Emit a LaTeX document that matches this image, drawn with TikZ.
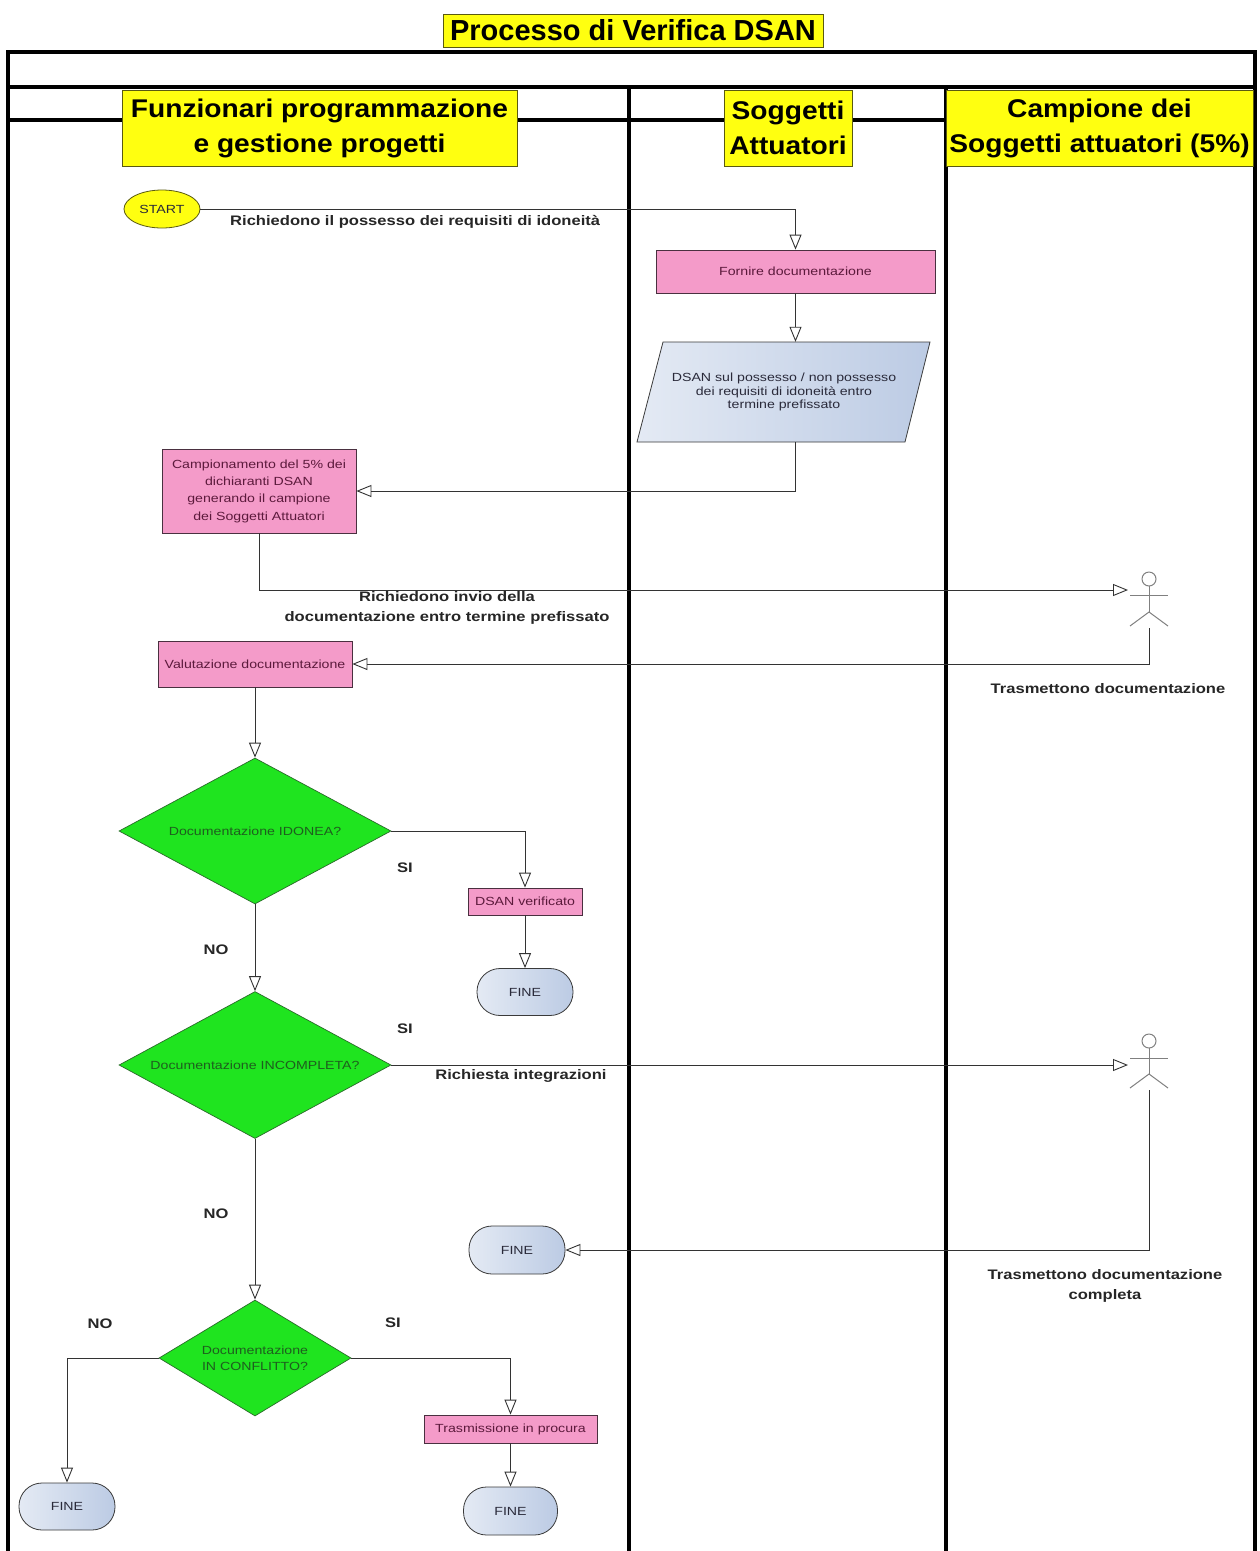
\documentclass[tikz,border=0pt]{standalone}
\usepackage{fontspec}
\setmainfont{Liberation Sans}
\newfontfamily\widef[FakeStretch=1.2]{Liberation Sans}
\newfontfamily\hdrf[FakeStretch=1.1]{Liberation Sans}
\usetikzlibrary{arrows.meta,shapes.geometric,calc}
\definecolor{pinkfill}{HTML}{F49BC9}
\definecolor{pinkline}{HTML}{4A3040}
\definecolor{pinktext}{HTML}{5C1A3C}
\definecolor{greenfill}{HTML}{1FE41F}
\definecolor{greenline}{HTML}{2A6A2A}
\definecolor{greentext}{HTML}{1E5E1E}
\definecolor{blueA}{HTML}{BCCBE4}
\definecolor{blueB}{HTML}{E4EAF4}
\definecolor{bluetext}{HTML}{2A2A3A}
\definecolor{darkline}{HTML}{3A3A3A}
\definecolor{linec}{HTML}{333333}
\definecolor{yfill}{HTML}{FFFF10}
\definecolor{yline}{HTML}{5A5A10}
\definecolor{actorc}{HTML}{808080}
\newcommand\nodetxt{\widef\fontsize{11.8}{14}\selectfont}
\newcommand\lbltxt{\widef\bfseries\fontsize{13.8}{20}\selectfont}
\newcommand\hdrtxt{\hdrf\bfseries\fontsize{25.6}{35}\selectfont}
\begin{document}
\begin{tikzpicture}[x=1pt,y=-1pt,
  conn/.style={draw=linec, line width=0.9pt, -{Triangle[length=15pt,width=12pt,fill=white]}},
  lane/.style={line width=4.8pt, black},
  pinkbox/.style={draw=pinkline, line width=0.8pt, fill=pinkfill, text=pinktext, font=\nodetxt, inner sep=0pt, align=center},
  finebox/.style={draw=darkline, line width=0.8pt, left color=blueB, right color=blueA, rounded corners=23pt, text=bluetext, font=\nodetxt, inner sep=0pt, minimum width=96pt, minimum height=47pt},
  decision/.style={diamond, draw=greenline, line width=0.7pt, fill=greenfill, text=greentext, font=\nodetxt, inner sep=0pt, align=center},
  lbl/.style={font=\lbltxt, text=black!85, align=center, inner sep=0pt},
  hdr/.style={draw=yline, line width=0.8pt, fill=yfill, font=\hdrtxt, align=center, inner sep=0pt, minimum height=76pt},
  actor/.style={draw=actorc, line width=1pt}
]
\useasboundingbox (0,0) rectangle (1260,1551);
\fill[white] (0,0) rectangle (1260,1551);

% lanes frame
\draw[lane] (8,1551) -- (8,52) -- (1255,52) -- (1255,1551);
\draw[lane] (8,87) -- (1255,87);
\draw[lane] (629,87) -- (629,1551);
\draw[lane] (946,87) -- (946,1551);
\draw[lane] (8,120) -- (122,120);
\draw[lane] (517,120) -- (629,120);
\draw[lane] (629,120) -- (724,120);
\draw[lane] (852,120) -- (946,120);

% title and headers
\node[draw=yline, line width=0.8pt, fill=yfill, inner sep=0pt, minimum width=380pt, minimum height=33pt,
      font=\bfseries\fontsize{29}{32}\selectfont] (title) at (633,30.5) {Processo di Verifica DSAN};
\node[hdr, minimum width=395pt] (hdr1) at (319.5,128) {Funzionari programmazione\\e gestione progetti};
\node[hdr, minimum width=128pt] (hdr2) at (788,128) {Soggetti\\Attuatori};
\node[hdr, minimum width=307pt] (hdr3) at (1099.5,128) {Campione dei\\Soggetti attuatori (5\%)};

% nodes
\node[ellipse, draw=yline, line width=0.8pt, fill=yfill, text=bluetext, font=\nodetxt, inner sep=0pt,
      minimum width=76pt, minimum height=38pt] (start) at (162,209) {START};
\node[pinkbox, minimum width=279pt, minimum height=43pt] (fornire) at (795.5,271.5) {Fornire documentazione};
\path[draw=darkline, line width=0.8pt, left color=blueB, right color=blueA]
  (637,442) -- (663,342) -- (930,342) -- (905,442) -- cycle;
\node[text=bluetext, font=\widef\fontsize{11.8}{13.4}\selectfont, align=center, inner sep=0pt,
      minimum width=268pt, minimum height=100pt] (dsan) at (784,392)
  {DSAN sul possesso / non possesso\\dei requisiti di idoneità entro\\termine prefissato};
\node[pinkbox, font=\widef\fontsize{11.8}{17.3}\selectfont, minimum width=194pt, minimum height=84pt] (camp) at (259,491)
  {Campionamento del 5\% dei\\dichiaranti DSAN\\generando il campione\\dei Soggetti Attuatori};
\node[pinkbox, minimum width=194pt, minimum height=46pt] (valut) at (255,664) {Valutazione documentazione};
\node[decision, aspect=1.86, minimum width=272pt, minimum height=146pt] (d1) at (255,831) {Documentazione IDONEA?};
\node[pinkbox, minimum width=114pt, minimum height=27pt] (ver) at (525,901.5) {DSAN verificato};
\node[finebox] (fine1) at (525,992) {FINE};
\node[decision, aspect=1.86, minimum width=272pt, minimum height=147pt] (d2) at (255,1065) {Documentazione INCOMPLETA?};
\node[finebox, minimum width=96pt, minimum height=48pt] (fine2) at (517,1250) {FINE};
\node[decision, aspect=1.66, font=\widef\fontsize{11.8}{16}\selectfont, minimum width=192pt, minimum height=116pt] (d3) at (255,1358)
  {Documentazione\\IN CONFLITTO?};
\node[finebox] (fine3) at (67,1506.5) {FINE};
\node[pinkbox, minimum width=173pt, minimum height=28pt] (trasm) at (510.5,1429) {Trasmissione in procura};
\node[finebox, minimum width=94pt, minimum height=48pt] (fine4) at (510.5,1511) {FINE};

% actors
\begin{scope}[shift={(1149,579)}]
  \draw[actor] (0,0) circle[radius=7pt];
  \draw[actor] (0,7) -- (0,33);
  \draw[actor] (-19,16) -- (19,16);
  \draw[actor] (-19,47) -- (0,33) -- (19,47);
\end{scope}
\begin{scope}[shift={(1149,1041)}]
  \draw[actor] (0,0) circle[radius=7pt];
  \draw[actor] (0,7) -- (0,33);
  \draw[actor] (-19,17) -- (19,17);
  \draw[actor] (-19,47) -- (0,33) -- (19,47);
\end{scope}
\coordinate (a1in) at (1128,590);
\coordinate (a1out) at (1149,628);
\coordinate (a2in) at (1128,1065);
\coordinate (a2out) at (1149,1090);

% connectors
\draw[conn] (start.east) -| (fornire.north);
\draw[conn] (fornire.south) -- (fornire.south |- dsan.north);
\draw[conn] (fornire.south |- dsan.south) |- (camp.east);
\draw[conn] (camp.south) |- (a1in);
\draw[conn] (a1out) |- (valut.east);
\draw[conn] (valut.south) -- (d1.north);
\draw[conn] (d1.east) -| (ver.north);
\draw[conn] (ver.south) -- (fine1.north);
\draw[conn] (d1.south) -- (d2.north);
\draw[conn] (d2.east) -- (a2in);
\draw[conn] (a2out) |- (fine2.east);
\draw[conn] (d2.south) -- (d3.north);
\draw[conn] (d3.west) -| (fine3.north);
\draw[conn] (d3.east) -| (trasm.north);
\draw[conn] (trasm.south) -- (fine4.north);

% labels
\node[lbl, anchor=west] (lA) at (230,222) {Richiedono il possesso dei requisiti di idoneità};
\node[lbl] (lB) at (447,608) {Richiedono invio della\\documentazione entro termine prefissato};
\node[lbl] (lC) at (1108,689) {Trasmettono documentazione};
\node[lbl] (si1) at (405,868) {SI};
\node[lbl] (no1) at (216,950) {NO};
\node[lbl] (si2) at (405,1029) {SI};
\node[lbl] (lD) at (521,1076) {Richiesta integrazioni};
\node[lbl] (no2) at (216,1214) {NO};
\node[lbl] (lE) at (1105,1286) {Trasmettono documentazione\\completa};
\node[lbl] (no3) at (100,1324) {NO};
\node[lbl] (si3) at (393,1323) {SI};
\end{tikzpicture}
\end{document}
